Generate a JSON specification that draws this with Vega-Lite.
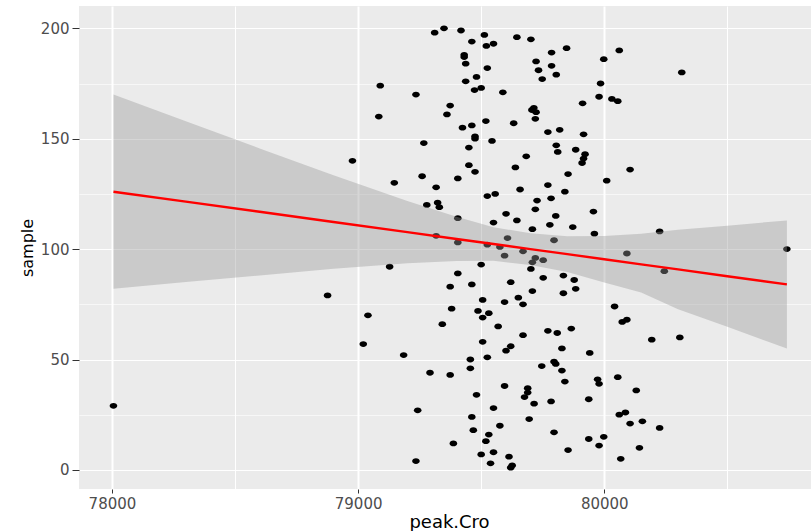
{
  "$schema": "https://vega.github.io/schema/vega-lite/v6.json",
  "autosize": {"type": "none"},
  "padding": {"left": 79, "top": 6, "right": 0, "bottom": 42},
  "width": 732,
  "height": 483,
  "background": "white",
  "config": {
    "view": {"fill": "#EBEBEB", "stroke": null},
    "axis": {
      "labelFont": "DejaVu Sans",
      "labelFontSize": 15,
      "labelColor": "#4D4D4D",
      "titleFont": "DejaVu Sans",
      "titleFontSize": 17,
      "titleFontWeight": "normal",
      "titleColor": "#000000",
      "tickColor": "#333333",
      "gridColor": "#FFFFFF",
      "domain": false
    }
  },
  "datasets": {
    "pts": [
      {"peakCro": 79349, "sample": 200}, {"peakCro": 79418, "sample": 199}, {"peakCro": 79311, "sample": 198}, {"peakCro": 79513, "sample": 197},
      {"peakCro": 79645, "sample": 196}, {"peakCro": 79702, "sample": 195}, {"peakCro": 79462, "sample": 194}, {"peakCro": 79550, "sample": 193},
      {"peakCro": 79521, "sample": 192}, {"peakCro": 79847, "sample": 191}, {"peakCro": 80061, "sample": 190}, {"peakCro": 79786, "sample": 189},
      {"peakCro": 79431, "sample": 188}, {"peakCro": 79431, "sample": 187}, {"peakCro": 79998, "sample": 186}, {"peakCro": 79723, "sample": 185},
      {"peakCro": 79437, "sample": 184}, {"peakCro": 79786, "sample": 183}, {"peakCro": 79525, "sample": 182}, {"peakCro": 79733, "sample": 181},
      {"peakCro": 80315, "sample": 180}, {"peakCro": 79805, "sample": 179}, {"peakCro": 79481, "sample": 178}, {"peakCro": 79748, "sample": 177},
      {"peakCro": 79437, "sample": 176}, {"peakCro": 79985, "sample": 175}, {"peakCro": 79090, "sample": 174}, {"peakCro": 79500, "sample": 173},
      {"peakCro": 79473, "sample": 172}, {"peakCro": 79588, "sample": 171}, {"peakCro": 79235, "sample": 170}, {"peakCro": 79979, "sample": 169},
      {"peakCro": 80031, "sample": 168}, {"peakCro": 80055, "sample": 167}, {"peakCro": 79912, "sample": 166}, {"peakCro": 79374, "sample": 165},
      {"peakCro": 79714, "sample": 164}, {"peakCro": 79706, "sample": 163}, {"peakCro": 79723, "sample": 162}, {"peakCro": 79361, "sample": 161},
      {"peakCro": 79084, "sample": 160}, {"peakCro": 79720, "sample": 159}, {"peakCro": 79519, "sample": 158}, {"peakCro": 79632, "sample": 157},
      {"peakCro": 79462, "sample": 156}, {"peakCro": 79424, "sample": 155}, {"peakCro": 79819, "sample": 154}, {"peakCro": 79771, "sample": 153},
      {"peakCro": 79916, "sample": 152}, {"peakCro": 79475, "sample": 151}, {"peakCro": 79475, "sample": 150}, {"peakCro": 79544, "sample": 149},
      {"peakCro": 79267, "sample": 148}, {"peakCro": 79805, "sample": 147}, {"peakCro": 79450, "sample": 146}, {"peakCro": 79884, "sample": 145},
      {"peakCro": 79811, "sample": 144}, {"peakCro": 79922, "sample": 143}, {"peakCro": 79683, "sample": 142}, {"peakCro": 79916, "sample": 141},
      {"peakCro": 78977, "sample": 140}, {"peakCro": 79910, "sample": 139}, {"peakCro": 79450, "sample": 138}, {"peakCro": 79639, "sample": 137},
      {"peakCro": 80105, "sample": 136}, {"peakCro": 79475, "sample": 135}, {"peakCro": 79853, "sample": 134}, {"peakCro": 79260, "sample": 133},
      {"peakCro": 79405, "sample": 132}, {"peakCro": 80010, "sample": 131}, {"peakCro": 79147, "sample": 130}, {"peakCro": 79771, "sample": 129},
      {"peakCro": 79317, "sample": 128}, {"peakCro": 79658, "sample": 127}, {"peakCro": 79840, "sample": 126}, {"peakCro": 79557, "sample": 125},
      {"peakCro": 79525, "sample": 124}, {"peakCro": 79784, "sample": 123}, {"peakCro": 79727, "sample": 122}, {"peakCro": 79323, "sample": 121},
      {"peakCro": 79279, "sample": 120}, {"peakCro": 79330, "sample": 119}, {"peakCro": 79720, "sample": 118}, {"peakCro": 79956, "sample": 117},
      {"peakCro": 79601, "sample": 116}, {"peakCro": 79803, "sample": 115}, {"peakCro": 79405, "sample": 114}, {"peakCro": 79645, "sample": 113},
      {"peakCro": 79550, "sample": 112}, {"peakCro": 79779, "sample": 111}, {"peakCro": 79872, "sample": 110}, {"peakCro": 79708, "sample": 109},
      {"peakCro": 80225, "sample": 108}, {"peakCro": 79960, "sample": 107}, {"peakCro": 79317, "sample": 106}, {"peakCro": 79607, "sample": 105},
      {"peakCro": 79796, "sample": 104}, {"peakCro": 79405, "sample": 103}, {"peakCro": 79525, "sample": 102}, {"peakCro": 79576, "sample": 101},
      {"peakCro": 80742, "sample": 100}, {"peakCro": 79670, "sample": 99}, {"peakCro": 80092, "sample": 98}, {"peakCro": 79595, "sample": 97},
      {"peakCro": 79720, "sample": 96}, {"peakCro": 79752, "sample": 95}, {"peakCro": 79708, "sample": 94}, {"peakCro": 79500, "sample": 93},
      {"peakCro": 79128, "sample": 92}, {"peakCro": 79702, "sample": 91}, {"peakCro": 80244, "sample": 90}, {"peakCro": 79405, "sample": 89},
      {"peakCro": 79834, "sample": 88}, {"peakCro": 79752, "sample": 87}, {"peakCro": 79878, "sample": 86}, {"peakCro": 79620, "sample": 85},
      {"peakCro": 79462, "sample": 84}, {"peakCro": 79374, "sample": 83}, {"peakCro": 79884, "sample": 82}, {"peakCro": 79708, "sample": 81},
      {"peakCro": 79834, "sample": 80}, {"peakCro": 78876, "sample": 79}, {"peakCro": 79651, "sample": 78}, {"peakCro": 79506, "sample": 77},
      {"peakCro": 79595, "sample": 76}, {"peakCro": 79670, "sample": 75}, {"peakCro": 80042, "sample": 74}, {"peakCro": 79380, "sample": 73},
      {"peakCro": 79487, "sample": 72}, {"peakCro": 79531, "sample": 71}, {"peakCro": 79040, "sample": 70}, {"peakCro": 79506, "sample": 69},
      {"peakCro": 80092, "sample": 68}, {"peakCro": 80073, "sample": 67}, {"peakCro": 79342, "sample": 66}, {"peakCro": 79569, "sample": 65},
      {"peakCro": 79866, "sample": 64}, {"peakCro": 79771, "sample": 63}, {"peakCro": 79809, "sample": 62}, {"peakCro": 79670, "sample": 61},
      {"peakCro": 80307, "sample": 60}, {"peakCro": 80193, "sample": 59}, {"peakCro": 79506, "sample": 58}, {"peakCro": 79021, "sample": 57},
      {"peakCro": 79620, "sample": 56}, {"peakCro": 79828, "sample": 55}, {"peakCro": 79601, "sample": 54}, {"peakCro": 79941, "sample": 53},
      {"peakCro": 79185, "sample": 52}, {"peakCro": 79525, "sample": 51}, {"peakCro": 79456, "sample": 50}, {"peakCro": 79796, "sample": 49},
      {"peakCro": 79803, "sample": 48}, {"peakCro": 79746, "sample": 47}, {"peakCro": 79456, "sample": 46}, {"peakCro": 79828, "sample": 45},
      {"peakCro": 79292, "sample": 44}, {"peakCro": 79374, "sample": 43}, {"peakCro": 80055, "sample": 42}, {"peakCro": 79973, "sample": 41},
      {"peakCro": 79840, "sample": 40}, {"peakCro": 79979, "sample": 39}, {"peakCro": 79595, "sample": 38}, {"peakCro": 79689, "sample": 37},
      {"peakCro": 80130, "sample": 36}, {"peakCro": 79689, "sample": 35}, {"peakCro": 79481, "sample": 34}, {"peakCro": 79676, "sample": 33},
      {"peakCro": 79937, "sample": 32}, {"peakCro": 79784, "sample": 31}, {"peakCro": 79715, "sample": 30}, {"peakCro": 78006, "sample": 29},
      {"peakCro": 79550, "sample": 28}, {"peakCro": 79242, "sample": 27}, {"peakCro": 80086, "sample": 26}, {"peakCro": 80061, "sample": 25},
      {"peakCro": 79462, "sample": 24}, {"peakCro": 79695, "sample": 23}, {"peakCro": 80155, "sample": 22}, {"peakCro": 80105, "sample": 21},
      {"peakCro": 79576, "sample": 20}, {"peakCro": 80225, "sample": 19}, {"peakCro": 79468, "sample": 18}, {"peakCro": 79796, "sample": 17},
      {"peakCro": 79531, "sample": 16}, {"peakCro": 79998, "sample": 15}, {"peakCro": 79937, "sample": 14}, {"peakCro": 79519, "sample": 13},
      {"peakCro": 79387, "sample": 12}, {"peakCro": 79979, "sample": 11}, {"peakCro": 80143, "sample": 10}, {"peakCro": 79853, "sample": 9},
      {"peakCro": 79550, "sample": 8}, {"peakCro": 79500, "sample": 7}, {"peakCro": 79613, "sample": 6}, {"peakCro": 80067, "sample": 5},
      {"peakCro": 79235, "sample": 4}, {"peakCro": 79538, "sample": 3}, {"peakCro": 79626, "sample": 2}, {"peakCro": 79620, "sample": 1}
    ],
    "band": [
      {"peakCro": 78006, "fit": 126.0, "lower": 82.0, "upper": 170.0},
      {"peakCro": 78300, "fit": 121.5, "lower": 85.1, "upper": 157.9},
      {"peakCro": 78600, "fit": 116.9, "lower": 88.1, "upper": 145.6},
      {"peakCro": 78900, "fit": 112.3, "lower": 91.1, "upper": 133.5},
      {"peakCro": 79200, "fit": 107.7, "lower": 93.6, "upper": 121.8},
      {"peakCro": 79400, "fit": 104.6, "lower": 94.6, "upper": 114.7},
      {"peakCro": 79550, "fit": 102.3, "lower": 94.7, "upper": 109.9},
      {"peakCro": 79700, "fit": 100.0, "lower": 92.8, "upper": 107.2},
      {"peakCro": 79850, "fit": 97.7, "lower": 89.6, "upper": 105.8},
      {"peakCro": 80000, "fit": 95.4, "lower": 84.9, "upper": 105.9},
      {"peakCro": 80150, "fit": 93.1, "lower": 80.3, "upper": 106.9},
      {"peakCro": 80300, "fit": 90.8, "lower": 72.8, "upper": 108.8},
      {"peakCro": 80500, "fit": 87.7, "lower": 64.8, "upper": 110.6},
      {"peakCro": 80742, "fit": 84.0, "lower": 55.0, "upper": 113.0}
    ]
  },
  "encoding": {
    "x": {
      "field": "peakCro", "type": "quantitative",
      "scale": {"domain": [77866, 80840], "nice": false, "zero": false},
      "axis": {
        "title": "peak.Cro",
        "values": [78000, 78500, 79000, 79500, 80000, 80500],
        "labelExpr": "datum.value % 1000 === 0 ? datum.label : ''",
        "format": "d",
        "gridWidth": {"condition": {"test": "datum.value % 1000 === 0", "value": 2}, "value": 1},
        "tickOpacity": {"condition": {"test": "datum.value % 1000 === 0", "value": 1}, "value": 0},
        "tickSize": 4,
        "labelPadding": 3,
        "titleX": 370,
        "titleFontSize": 18,
        "titlePadding": 2
      }
    },
    "y": {
      "field": "sample", "type": "quantitative",
      "scale": {"domain": [-8.65, 210.1], "nice": false, "zero": false},
      "axis": {
        "title": "sample",
        "values": [0, 25, 50, 75, 100, 125, 150, 175, 200],
        "labelExpr": "datum.value % 50 === 0 ? datum.label : ''",
        "gridWidth": {"condition": {"test": "datum.value % 50 === 0", "value": 1.2}, "value": 0.6},
        "tickOpacity": {"condition": {"test": "datum.value % 50 === 0", "value": 1}, "value": 0},
        "tickSize": 7,
        "labelPadding": 3,
        "titleFontSize": 16,
        "titlePadding": 5
      }
    }
  },
  "layer": [
    {
      "data": {"name": "pts"},
      "mark": {"type": "point", "shape": "M -1 0 A 1 0.76 0 1 0 1 0 A 1 0.76 0 1 0 -1 0 Z", "filled": true, "color": "#000000", "opacity": 1, "size": 58}
    },
    {
      "data": {"name": "band"},
      "mark": {"type": "area", "color": "#999999", "opacity": 0.4},
      "encoding": {"y": {"field": "lower", "type": "quantitative"}, "y2": {"field": "upper"}}
    },
    {
      "data": {"name": "band"},
      "mark": {"type": "line", "color": "#FF0000", "strokeWidth": 2.4},
      "encoding": {"y": {"field": "fit", "type": "quantitative"}}
    }
  ]
}
